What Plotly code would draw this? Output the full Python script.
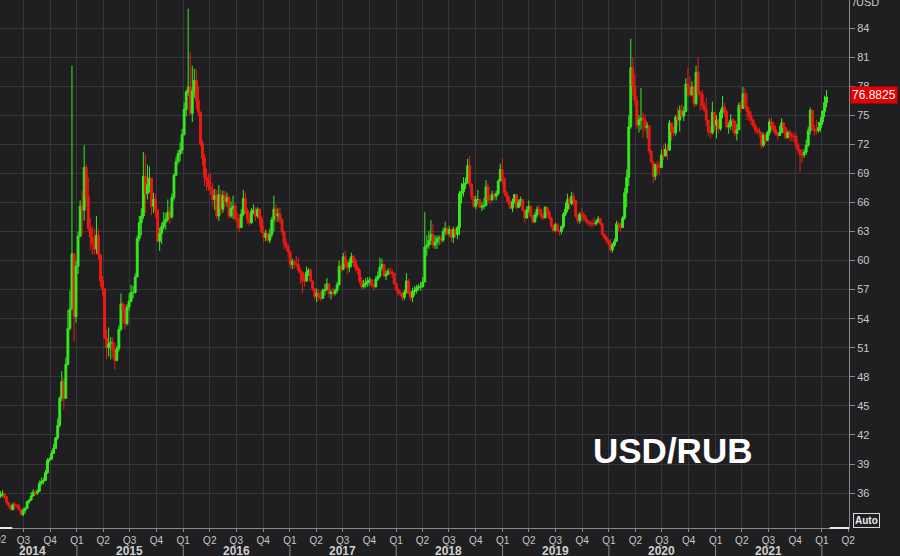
import pandas as pd
import plotly.graph_objects as go

# ---------------- data (weekly USD/RUB, weeks starting Monday 2014-04-07) -------------
first_open = 35.6

close_2014 = [35.7, 35.9, 35.9, 35.6, 35.0, 34.7, 34.3, 34.8, 34.7, 34.7, 34.3, 33.8, 34.2,
              34.4, 35.1, 35.3, 35.7, 36.1, 36.0, 36.2, 37.0, 37.2, 37.3, 38.1, 39.4, 39.5,
              40.1, 40.6, 41.7, 43.0, 45.8, 47.5, 45.8, 49.3, 53.0, 55.0, 60.7, 54.2, 59.4]
high_2014 = [36.1, 36.2, 36.3, 36.0, 35.7, 35.1, 34.8, 35.0, 35.1, 34.9, 34.9, 34.3, 34.5,
             34.6, 35.2, 35.4, 36.1, 36.4, 36.3, 36.4, 37.3, 37.6, 37.6, 38.4, 39.6, 39.7,
             40.4, 41.1, 41.8, 43.7, 46.0, 48.6, 47.9, 50.0, 54.9, 56.9, 80.1, 60.0, 60.0]
low_2014 = [35.3, 35.5, 35.6, 35.4, 34.8, 34.5, 34.2, 34.2, 34.4, 34.4, 34.2, 33.7, 33.6,
            33.9, 34.4, 34.9, 35.2, 35.7, 35.8, 35.8, 36.1, 36.8, 36.9, 37.3, 38.0, 39.2,
            39.5, 40.1, 40.6, 41.5, 42.8, 45.5, 44.6, 45.7, 49.2, 52.8, 56.4, 51.6, 53.6]

close_2015 = [62.5, 65.6, 65.2, 69.6, 66.6, 63.3, 62.4, 61.7, 61.2, 62.6, 60.6, 57.9, 57.1,
              52.0, 51.0, 51.4, 51.6, 50.8, 49.7, 50.9, 52.9, 55.5, 54.9, 53.5, 55.2, 55.8,
              56.7, 56.7, 58.3, 62.3, 63.9, 64.6, 68.7, 66.9, 67.8, 68.5, 65.6, 66.3, 65.2,
              62.0, 62.8, 63.5, 64.0, 64.3, 65.0, 64.5, 66.5, 68.8, 70.2, 71.0, 71.4, 73.0]
high_2015 = [63.0, 66.2, 67.2, 71.9, 69.9, 68.6, 64.4, 63.6, 63.3, 64.6, 63.3, 60.3, 58.4,
             57.1, 52.9, 53.1, 52.1, 52.1, 51.5, 51.2, 53.3, 56.6, 55.7, 55.5, 55.5, 56.6,
             57.5, 57.4, 58.7, 62.6, 64.6, 65.4, 71.2, 71.0, 69.9, 69.7, 68.5, 67.0, 66.9,
             65.3, 63.4, 63.9, 65.0, 64.9, 66.3, 65.6, 66.9, 69.0, 70.7, 71.4, 72.2, 73.6]
low_2015 = [58.6, 62.5, 62.6, 64.1, 65.6, 63.0, 61.1, 60.6, 60.6, 60.7, 60.1, 57.3, 56.4,
            51.9, 49.8, 50.1, 49.8, 49.9, 48.8, 49.6, 50.6, 52.7, 53.5, 52.9, 53.3, 54.8,
            55.7, 56.1, 56.6, 58.3, 62.0, 62.6, 64.3, 64.9, 66.3, 67.0, 64.7, 64.9, 64.4,
            61.9, 61.0, 61.7, 63.2, 63.2, 64.0, 63.8, 64.3, 66.2, 68.7, 69.9, 70.2, 71.0]

close_2016 = [75.6, 77.4, 77.9, 75.2, 77.5, 78.6, 76.5, 75.3, 72.1, 70.6, 68.6, 68.3, 67.6,
              67.3, 66.3, 66.7, 64.6, 66.8, 65.3, 66.7, 66.1, 66.5, 64.6, 65.4, 65.6, 64.3,
              64.3, 63.4, 64.8, 66.4, 65.2, 64.2, 63.9, 65.1, 65.2, 64.6, 65.3, 64.3, 62.9,
              62.4, 62.8, 62.1, 62.7, 64.2, 65.3, 64.6, 64.8, 64.2, 63.0, 61.8, 61.4, 60.9]
high_2016 = [76.3, 77.6, 86.0, 81.5, 80.1, 79.8, 79.7, 78.0, 75.4, 72.4, 71.0, 69.5, 69.0,
             69.0, 68.0, 67.4, 67.3, 67.8, 67.3, 67.2, 67.2, 67.0, 66.7, 66.1, 66.7, 65.9,
             65.0, 64.8, 65.3, 67.3, 67.0, 65.4, 64.9, 65.4, 65.8, 65.5, 65.5, 65.4, 64.6,
             63.6, 63.2, 62.9, 63.3, 64.5, 66.7, 65.8, 65.4, 65.5, 64.4, 63.1, 62.3, 61.7]
low_2016 = [72.9, 74.9, 77.0, 75.0, 74.3, 76.8, 75.6, 74.9, 71.8, 69.8, 67.7, 67.2, 67.2,
            66.8, 65.6, 65.2, 64.3, 64.1, 64.7, 64.9, 65.5, 65.6, 64.3, 64.4, 64.3, 64.0,
            63.3, 62.9, 63.4, 64.6, 64.8, 63.8, 63.6, 63.8, 64.8, 64.1, 64.4, 63.5, 62.9,
            61.9, 62.0, 61.9, 61.8, 62.4, 63.0, 63.9, 64.0, 63.8, 62.6, 61.2, 61.0, 60.3]

close_2017 = [59.6, 59.9, 59.6, 59.6, 59.0, 58.8, 57.9, 57.9, 58.8, 59.0, 57.9, 57.1, 56.3,
              56.6, 56.2, 56.1, 56.9, 57.0, 57.6, 56.6, 56.7, 56.6, 56.9, 57.5, 59.4, 59.1,
              60.4, 59.7, 59.3, 59.8, 60.4, 60.0, 59.3, 59.0, 57.9, 57.3, 57.5, 57.7, 57.9,
              58.0, 57.5, 57.3, 58.1, 58.4, 59.3, 59.6, 58.4, 58.6, 58.9, 58.8, 58.7, 57.6]
high_2017 = [61.0, 60.2, 60.1, 60.5, 60.3, 59.3, 58.5, 58.6, 59.4, 59.2, 59.2, 57.9, 57.1,
             57.1, 57.0, 56.9, 57.1, 57.6, 58.2, 57.6, 57.0, 57.2, 57.1, 57.8, 60.0, 59.7,
             60.8, 61.0, 60.0, 60.2, 60.8, 60.6, 60.2, 59.6, 59.2, 58.3, 58.0, 58.2, 58.3,
             58.3, 58.1, 57.6, 58.4, 58.9, 60.3, 60.2, 59.7, 59.0, 59.2, 59.3, 59.1, 58.7]
low_2017 = [59.3, 59.1, 59.2, 59.3, 58.7, 57.6, 56.6, 57.3, 57.8, 58.4, 57.8, 56.9, 56.0,
            55.7, 55.9, 55.8, 56.0, 56.4, 56.9, 56.2, 56.0, 56.3, 56.4, 56.6, 57.4, 58.8,
            59.0, 59.3, 58.6, 58.8, 59.3, 59.4, 58.9, 58.6, 57.6, 57.1, 57.1, 57.2, 57.3,
            57.4, 57.2, 56.9, 57.2, 57.9, 58.2, 59.0, 58.3, 58.0, 58.5, 58.5, 58.2, 57.5]

close_2018 = [57.0, 56.6, 56.6, 56.2, 56.7, 57.9, 56.6, 56.2, 56.8, 56.9, 57.2, 57.3, 57.3,
              57.8, 61.4, 61.6, 62.1, 62.7, 61.6, 61.9, 62.3, 62.3, 62.1, 63.0, 63.3, 62.8,
              63.2, 62.4, 63.2, 62.7, 63.4, 66.9, 67.1, 67.9, 68.0, 69.8, 67.9, 66.6, 65.6,
              66.3, 66.3, 65.5, 65.6, 65.7, 67.6, 66.3, 66.3, 66.8, 66.6, 66.9, 68.2, 69.4, 68.5]
high_2018 = [57.8, 57.2, 56.9, 56.8, 57.0, 58.7, 58.1, 56.9, 57.2, 57.4, 57.5, 57.6, 57.8,
             58.3, 65.0, 62.6, 63.1, 64.2, 63.8, 62.6, 62.6, 62.6, 62.6, 63.4, 64.0, 63.5,
             63.6, 63.3, 63.5, 63.4, 63.6, 67.2, 68.0, 68.6, 68.6, 70.5, 70.8, 68.0, 66.7,
             66.7, 67.3, 66.3, 66.0, 66.5, 68.3, 68.0, 66.8, 67.2, 67.0, 67.2, 68.4, 70.0, 70.6]
low_2018 = [56.8, 56.4, 56.3, 55.8, 55.9, 56.6, 56.5, 55.9, 55.7, 56.4, 56.6, 56.9, 56.9,
            57.2, 58.2, 60.5, 61.2, 61.6, 61.3, 61.2, 61.2, 61.6, 61.7, 61.9, 62.6, 62.6,
            62.5, 61.9, 61.8, 62.4, 62.2, 62.6, 65.9, 66.6, 67.4, 68.0, 67.6, 66.2, 65.4,
            65.3, 65.8, 65.4, 65.1, 65.3, 65.6, 66.0, 65.8, 66.1, 66.2, 66.2, 66.7, 68.3, 67.9]

close_2019 = [67.0, 66.6, 66.0, 65.4, 66.1, 66.8, 65.5, 66.0, 66.3, 65.2, 64.4, 65.2, 65.6,
              64.6, 64.0, 64.7, 65.3, 65.2, 64.6, 64.4, 65.5, 65.0, 64.4, 63.6, 63.1, 63.7,
              63.1, 63.0, 63.5, 64.8, 65.3, 66.3, 65.9, 66.6, 66.2, 64.6, 64.1, 64.8, 64.7,
              64.4, 64.1, 63.9, 63.8, 63.8, 63.8, 64.0, 64.3, 63.8, 62.7, 62.4, 62.1, 61.8]
high_2019 = [68.5, 67.2, 66.7, 66.2, 66.4, 66.9, 66.6, 66.3, 66.6, 66.3, 65.2, 65.6, 66.2,
             65.7, 64.7, 65.0, 65.6, 65.7, 65.4, 64.9, 65.6, 65.5, 65.2, 64.5, 63.7, 63.9,
             63.9, 63.2, 63.6, 65.0, 66.0, 66.9, 66.6, 67.1, 67.0, 66.1, 64.8, 65.0, 65.4,
             65.0, 64.7, 64.2, 64.1, 64.2, 64.4, 64.2, 64.6, 64.4, 63.9, 62.8, 62.6, 62.2]
low_2019 = [66.7, 66.1, 65.7, 65.3, 65.0, 65.9, 65.3, 65.4, 65.6, 65.1, 63.9, 64.3, 64.9,
            64.4, 63.8, 63.9, 64.4, 64.8, 64.3, 64.2, 64.5, 64.6, 64.2, 63.3, 62.9, 63.0,
            62.9, 62.6, 62.7, 63.3, 64.6, 65.0, 65.3, 65.7, 65.7, 64.4, 63.8, 63.8, 64.2,
            64.0, 63.8, 63.6, 63.5, 63.4, 63.6, 63.6, 63.9, 63.6, 62.6, 62.2, 61.8, 61.6]

close_2020 = [61.1, 61.6, 62.0, 63.8, 63.7, 63.4, 64.4, 67.0, 68.6, 73.8, 79.9, 78.0, 76.5,
              74.0, 74.5, 74.7, 74.5, 73.7, 73.9, 71.3, 70.2, 68.7, 69.9, 69.7, 69.6, 70.9,
              70.8, 71.5, 71.4, 74.2, 73.3, 73.2, 74.8, 74.5, 75.5, 74.9, 75.4, 78.2, 77.9,
              77.1, 77.9, 76.2, 79.4, 77.3, 77.2, 76.0, 75.6, 74.5, 73.3, 73.2, 75.3, 74.0]
high_2020 = [62.2, 61.8, 62.3, 64.1, 64.0, 63.9, 64.6, 67.5, 69.4, 75.0, 82.9, 81.0, 79.3,
             77.0, 75.0, 77.8, 75.3, 75.1, 74.3, 73.8, 71.3, 70.1, 70.0, 70.3, 70.2, 71.5,
             71.9, 72.1, 72.0, 74.5, 74.2, 73.8, 75.0, 75.8, 76.0, 76.2, 75.9, 78.8, 79.9,
             79.0, 78.5, 78.0, 80.1, 81.0, 77.5, 77.6, 76.4, 76.8, 74.0, 73.8, 76.4, 74.8]
low_2020 = [60.9, 60.8, 61.4, 61.9, 63.0, 63.0, 63.4, 64.2, 65.5, 67.7, 73.6, 77.0, 76.0,
            73.6, 73.2, 73.5, 72.7, 73.3, 72.6, 71.0, 70.0, 68.0, 68.3, 68.9, 68.8, 69.7,
            70.4, 70.7, 70.4, 71.3, 72.4, 72.8, 72.9, 73.9, 73.3, 74.7, 74.4, 75.3, 77.0,
            76.9, 77.0, 75.8, 76.0, 76.9, 75.5, 75.6, 75.3, 73.9, 72.9, 72.6, 73.0, 73.4]

close_2021 = [74.5, 73.6, 75.3, 75.8, 75.4, 73.8, 73.9, 74.5, 74.4, 73.1, 73.5, 76.0, 75.7,
              77.2, 75.9, 75.4, 74.9, 74.5, 73.9, 73.5, 73.4, 73.2, 71.9, 72.9, 72.4, 73.2,
              74.3, 73.9, 73.5, 73.1, 72.9, 73.2, 74.2, 73.7, 72.7, 73.2, 72.9, 72.8, 72.8,
              71.9, 71.4, 70.9, 70.9, 71.2, 71.9, 73.4, 75.5, 73.6, 73.4, 73.4, 73.7, 74.3]
high_2021 = [75.0, 74.6, 75.6, 77.0, 76.3, 75.5, 74.3, 75.1, 74.7, 74.4, 74.1, 76.3, 76.4,
             77.9, 77.8, 77.3, 75.8, 75.4, 74.6, 74.2, 73.8, 73.7, 73.2, 73.2, 73.1, 73.4,
             74.6, 74.8, 74.3, 74.0, 73.3, 73.9, 74.7, 74.3, 73.6, 73.4, 73.5, 73.3, 73.2,
             73.1, 72.2, 71.5, 71.5, 71.5, 72.5, 73.8, 75.8, 75.5, 74.0, 74.5, 74.3, 74.8]
low_2021 = [72.6, 73.1, 73.4, 74.7, 74.9, 73.6, 73.1, 73.5, 73.2, 72.8, 72.4, 73.6, 75.3,
            76.0, 75.6, 74.5, 74.4, 74.0, 73.7, 73.1, 73.0, 72.7, 71.5, 71.7, 72.0, 72.3,
            72.9, 73.4, 73.2, 72.9, 72.5, 72.9, 73.4, 73.1, 72.5, 72.6, 72.3, 72.3, 72.2,
            71.5, 71.0, 69.2, 70.1, 70.6, 70.9, 71.7, 73.0, 73.4, 72.9, 73.0, 73.2, 73.3]

close_2022 = [75.4, 76.3, 76.8825]
high_2022 = [75.5, 77.0, 77.6]
low_2022 = [74.0, 74.8, 75.8]

last_price = 76.8825

quarter_labels = ["Q1", "Q2", "Q3", "Q4"]
year_labels = ["2014", "2015", "2016", "2017", "2018", "2019", "2020", "2021"]
y_ticks = [36, 39, 42, 45, 48, 51, 54, 57, 60, 63, 66, 69, 72, 75, 78, 81, 84]

# ---------------- assemble --------------------------------------------------------------
close = (close_2014 + close_2015 + close_2016 + close_2017 + close_2018 +
         close_2019 + close_2020 + close_2021 + close_2022)
high = (high_2014 + high_2015 + high_2016 + high_2017 + high_2018 +
        high_2019 + high_2020 + high_2021 + high_2022)
low = (low_2014 + low_2015 + low_2016 + low_2017 + low_2018 +
       low_2019 + low_2020 + low_2021 + low_2022)
opens = [first_open] + close[:-1]
n = min(len(close), len(high), len(low))
close, high, low, opens = close[:n], high[:n], low[:n], opens[:n]
high = [max(h, o, c) for h, o, c in zip(high, opens, close)]
low = [min(l, o, c) for l, o, c in zip(low, opens, close)]
dates = pd.date_range("2014-04-07", periods=n, freq="7D")

BG = "#1f1f21"
GRID = "#363638"
TXT = "#c8c8c8"
GREEN = "#38ea1f"
RED = "#f01a12"

fig = go.Figure(go.Candlestick(
    x=dates, open=opens, high=high, low=low, close=close,
    increasing=dict(line=dict(color=GREEN, width=1), fillcolor=GREEN),
    decreasing=dict(line=dict(color=RED, width=1), fillcolor=RED),
    whiskerwidth=0, showlegend=False, hoverinfo="skip",
))

# quarter ticks
qvals, qtext = [], []
for d in pd.date_range("2014-04-01", "2022-04-01", freq="QS"):
    qvals.append(d)
    qtext.append(quarter_labels[(d.month - 1) // 3])

x_start, x_end = "2014-04-12", "2022-04-04"

fig.update_layout(
    width=900, height=556,
    margin=dict(l=0, r=51, t=0, b=28, autoexpand=False),
    paper_bgcolor=BG, plot_bgcolor=BG,
    boxgap=0.1, boxgroupgap=0,
    font=dict(family="Liberation Sans, Arial, sans-serif", color=TXT),
    xaxis=dict(
        type="date", range=[x_start, x_end], rangeslider=dict(visible=False),
        tickmode="array", tickvals=qvals, ticktext=qtext,
        tickfont=dict(size=10, color=TXT), ticks="outside", ticklen=3,
        tickcolor="#8a8a8a", showgrid=True, gridcolor=GRID, gridwidth=1,
        showline=True, linecolor="#8a8a8a", linewidth=1, zeroline=False,
        automargin=False,
    ),
    yaxis=dict(
        side="right", range=[32.40, 86.89], tickmode="array", tickvals=y_ticks,
        ticktext=[str(v) for v in y_ticks],
        tickfont=dict(size=11, color=TXT), ticks="outside", ticklen=5,
        tickcolor="#8a8a8a", showgrid=True, gridcolor=GRID, gridwidth=1,
        showline=True, linecolor="#8a8a8a", linewidth=1, zeroline=False,
        automargin=False,
    ),
)

annotations = []
shapes = []
# year labels and separators
for yl in year_labels:
    yr = int(yl)
    xc = f"{yr}-07-01" if yr > 2014 else "2014-08-01"
    annotations.append(dict(x=xc, y=-0.0436, xref="x", yref="paper", text=f"<b>{yl}</b>",
                            showarrow=False, font=dict(size=12, color="#d0d0d0"),
                            xanchor="center", yanchor="middle"))
for yr in range(2015, 2023):
    shapes.append(dict(type="line", xref="x", yref="paper", x0=f"{yr}-01-01", x1=f"{yr}-01-01",
                       y0=-0.032, y1=-0.055, line=dict(color="#8a8a8a", width=1)))

# partial "Q2" label at the left edge
annotations.append(dict(x=0, y=-0.021, xref="paper", yref="paper", text="Q2", showarrow=False,
                        xanchor="center", yanchor="middle", font=dict(size=10, color=TXT)))

# bright range markers on the x-axis line
shapes.append(dict(type="line", xref="x", yref="paper", x0=x_start, x1="2014-05-24",
                   y0=0, y1=0, line=dict(color="#e8e8e8", width=2)))
shapes.append(dict(type="line", xref="x", yref="paper", x0="2022-01-28", x1=x_end,
                   y0=0, y1=0, line=dict(color="#e8e8e8", width=2)))

# /USD label
annotations.append(dict(x=1, y=1, xref="paper", yref="paper", text="/USD", showarrow=False,
                        xanchor="left", yanchor="middle", xshift=2, yshift=-2,
                        font=dict(size=11, color=TXT)))
# last price box
annotations.append(dict(x=1, y=last_price, xref="paper", yref="y", text=f"{last_price:.4f}",
                        showarrow=False, xanchor="left", yanchor="middle", xshift=1, yshift=2,
                        bgcolor="#e60000", borderpad=1,
                        font=dict(size=12, color="#ffffff")))
# Auto box
annotations.append(dict(x=1, y=0.0133, xref="paper", yref="paper", text="<b>Auto</b>",
                        showarrow=False, xanchor="left", yanchor="middle", xshift=4,
                        bordercolor="#d8d8d8", borderwidth=1, borderpad=1, bgcolor=BG,
                        font=dict(size=10, color="#e8e8e8")))
# big title
annotations.append(dict(x=672 / 849, y=1 - 450 / 528, xref="paper", yref="paper",
                        text="<b>USD/RUB</b>", showarrow=False, xanchor="center",
                        yanchor="middle", font=dict(size=35, color="#ffffff",
                                                     family="Liberation Sans, Arial")))

fig.update_layout(annotations=annotations, shapes=shapes)
fig.write_html("out.html",
               config={"displayModeBar": False, "staticPlot": True},
               post_script="document.body.style.margin='0px';"
                           "document.body.style.overflow='hidden';"
                           "document.body.style.background='" + BG + "';")
